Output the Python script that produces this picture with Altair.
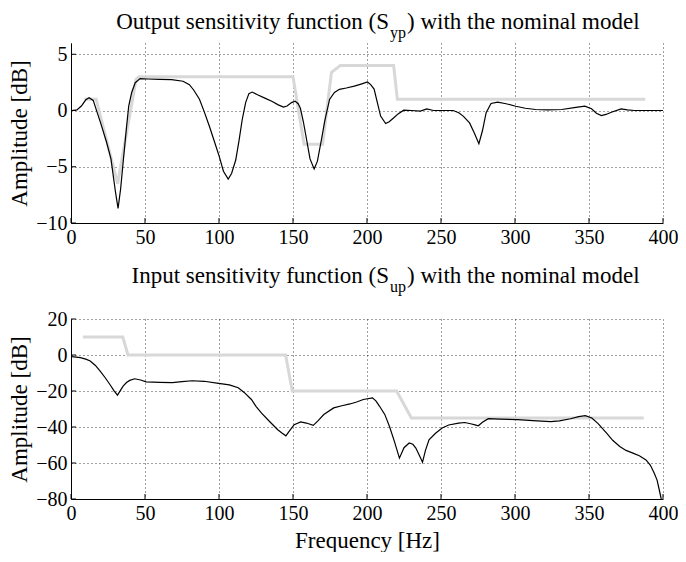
import altair as alt
import pandas as pd

# ---------------- data ----------------
syp_freq = [0.5, 4, 7, 10, 12.2, 15, 20, 24, 27, 30, 31.8, 33.5, 35.6, 37.5, 39, 41, 43.4, 46.7, 52, 60, 68,
            75.7, 80, 83, 86.8, 90, 93.5, 97, 100.2, 103, 106.2, 108.5, 111.3, 113.5, 115.7, 118, 120.2, 122.4,
            126, 131, 136, 140, 143.6, 146, 149, 151.4, 153.5, 155, 157, 159.2, 161.5, 164.3, 166.5, 169.2,
            171.5, 174.7, 178, 181.4, 186, 191.4, 196, 200.3, 202.5, 204.8, 207, 209.2, 212.6, 215, 218.1,
            221, 224.8, 230, 236, 240.4, 244.9, 252, 258.2, 262, 265, 269.3, 272.5, 275.6, 278, 280.5, 283.8,
            288.3, 294, 300.5, 307, 313.9, 322, 331.7, 340, 347.2, 351.7, 355, 358.4, 361.5, 365.1, 371.7,
            376, 380.6, 390, 400]
syp_db = [0, 0.05, 0.4, 0.95, 1.13, 0.9, -1.1, -2.8, -4.3, -7.2, -8.7, -7.0, -4.1, -1.5, 0.4, 1.6, 2.47, 2.83,
          2.8, 2.77, 2.75, 2.6, 2.3, 1.8, 1.0, -0.1, -1.4, -2.8, -4.1, -5.4, -6.1, -5.6, -4.4, -2.7, -0.8, 0.7,
          1.5, 1.64, 1.4, 1.1, 0.8, 0.5, 0.3, 0.4, 0.7, 0.83, 0.6, 0.2, -1.0, -2.6, -4.3, -5.2, -4.5, -2.6,
          -0.9, 0.98, 1.6, 1.88, 2.0, 2.17, 2.35, 2.53, 2.3, 1.9, 0.7, -0.5, -1.16, -1.0, -0.65, -0.3, 0.03,
          0.0, -0.06, 0.15, 0, 0, 0, -0.2, -0.5, -1.1, -2.0, -2.95, -1.8, -0.2, 0.63, 0.74, 0.6, 0.38, 0.2,
          0.09, 0.05, 0.09, 0.25, 0.38, 0.15, -0.25, -0.45, -0.35, -0.15, 0.15, 0.05, 0, 0, 0]

syp_tpl_freq = [9, 17, 31.5, 44, 46, 150, 157.5, 170, 176, 182, 218, 220.5, 388]
syp_tpl_db = [1, 1, -6.5, 2.8, 3, 3, -3, -3, 3.4, 4, 4, 1, 1]

sup_freq = [0, 0.8, 6.3, 10, 13, 16.5, 19.7, 23, 26.3, 29, 31.4, 33.3, 35.2, 37.5, 39.7, 43, 47, 50.8, 60, 68.5,
            75, 81.9, 90, 99.7, 107, 113, 117, 121.9, 125, 128.6, 134, 139.7, 142.5, 145.2, 147.5, 150.8,
            155.2, 159, 163.7, 167, 170.8, 177.5, 183, 188.5, 193, 197.5, 203.7, 206, 208.5, 212, 215.2,
            218.5, 221.9, 225, 228.5, 231, 233, 235.5, 237.5, 239.5, 241.9, 246.3, 250.8, 255.2, 261.9, 266,
            270, 273, 275.2, 278, 281.9, 290, 301.9, 312, 324.1, 330, 337.5, 343, 347.5, 351.9, 356, 361.9,
            366, 370.8, 375, 379.7, 384, 388.5, 391.5, 394.1, 396, 397.5, 398.8]
sup_db = [-0.5, -0.9, -1.5, -2.3, -3.3, -5.8, -8.9, -12.5, -16.4, -19.8, -22.3, -19.8, -17.3, -15.3, -14.1,
          -13.2, -13.9, -14.9, -15.2, -15.4, -14.8, -14.3, -14.6, -15.8, -16.6, -18.2, -20.8, -24.7, -28.5,
          -32.2, -36.8, -41.5, -43.3, -44.9, -42.3, -38.7, -37.2, -37.8, -39.1, -36.5, -33.1, -29.4, -28.2,
          -27.2, -26.1, -24.7, -23.8, -25.5, -28.5, -33, -39.7, -48, -57.3, -51.5, -48.9, -49.6, -51.7, -56,
          -59.6, -53, -47.1, -43.5, -40.6, -38.9, -37.8, -37.5, -38.2, -38.8, -39.3, -37.4, -35.4, -35.6,
          -35.9, -36.5, -37.0, -36.6, -35.4, -34.2, -33.7, -35.0, -38, -43.4, -47.4, -50.8, -53, -54.5, -56,
          -58.3, -61.3, -65.7, -69.5, -75, -80]

sup_tpl_freq = [8, 35, 38.5, 145, 149.5, 220, 230, 387]
sup_tpl_db = [10, 10, 0, 0, -20, -20, -35, -35]

title_top = ["Output sensitivity function (S", "yp", ") with the nominal model"]
title_bot = ["Input sensitivity function (S", "up", ") with the nominal model"]

x_ticks = [0, 50, 100, 150, 200, 250, 300, 350, 400]
syp_ticks = [-10, -5, 0, 5]
sup_ticks = [-80, -60, -40, -20, 0, 20]
syp_domain = [-10, 6]
sup_domain = [-80, 20]
x_title = "Frequency [Hz]"
y_title = "Amplitude [dB]"

# ---------------- styling ----------------
FONT = "Liberation Serif"
W, H = 592, 180
TITLE_SIZE = 23
SUB_SIZE = 16
PIVOT = 319          # x (px, in plot) where the subscript starts
SUB_W = 17


def panel(freq, db, tfreq, tdb, ydomain, yticks, title_parts, with_xtitle, title_base):
    line_df = pd.DataFrame({"f": freq, "db": db})
    tpl_df = pd.DataFrame({"f": tfreq, "db": tdb})

    xaxis_kw = dict(values=x_ticks, grid=True, labelFontSize=20, labelPadding=4, ticks=False,
                    labelFlush=False, labelOverlap=False, labelBound=False,
                    domainColor="#000", domainWidth=1)
    if with_xtitle:
        xaxis_kw.update(title=x_title, titleFontSize=23, titlePadding=6)
    else:
        xaxis_kw.update(title="")
    yaxis = alt.Axis(values=yticks, grid=True, labelFontSize=20, labelPadding=4, ticks=False,
                     labelOverlap=False, labelBound=False, labelFlush=False,
                     title=y_title, titleFontSize=23, titlePadding=4, domainColor="#000", domainWidth=1)

    x = alt.X("f:Q", scale=alt.Scale(domain=[0, 400], nice=False, zero=False), axis=alt.Axis(**xaxis_kw))
    y = alt.Y("db:Q", scale=alt.Scale(domain=ydomain, nice=False, zero=False), axis=yaxis)

    tpl = alt.Chart(tpl_df).mark_line(color="#d8d8d8", strokeWidth=3, clip=True).encode(x=x, y=y)
    line = alt.Chart(line_df).mark_line(color="#000", strokeWidth=1.2, clip=True).encode(x=x, y=y)

    # inward Matlab-style ticks
    xt = alt.Chart(pd.DataFrame({"f": x_ticks})).mark_rule(color="#000", strokeWidth=1).encode(
        x=x, y=alt.value(H), y2=alt.value(H - 5))
    yt = alt.Chart(pd.DataFrame({"db": yticks})).mark_rule(color="#000", strokeWidth=1).encode(
        y=y, x=alt.value(0), x2=alt.value(5))

    t1 = alt.Chart(pd.DataFrame({"t": [title_parts[0]]})).mark_text(
        align="right", baseline="alphabetic", font=FONT, fontSize=TITLE_SIZE, color="#000").encode(
        x=alt.value(PIVOT - 1), y=alt.value(title_base), text="t:N")
    t2 = alt.Chart(pd.DataFrame({"t": [title_parts[1]]})).mark_text(
        align="left", baseline="alphabetic", font=FONT, fontSize=SUB_SIZE, color="#000").encode(
        x=alt.value(PIVOT), y=alt.value(title_base + 8.5), text="t:N")
    t3 = alt.Chart(pd.DataFrame({"t": [title_parts[2]]})).mark_text(
        align="left", baseline="alphabetic", font=FONT, fontSize=TITLE_SIZE, color="#000").encode(
        x=alt.value(PIVOT + SUB_W), y=alt.value(title_base), text="t:N")

    return alt.layer(tpl, line, xt, yt, t1, t2, t3).properties(width=W, height=H)


top = panel(syp_freq, syp_db, syp_tpl_freq, syp_tpl_db, syp_domain, syp_ticks, title_top, False, -14)
bot = panel(sup_freq, sup_db, sup_tpl_freq, sup_tpl_db, sup_domain, sup_ticks, title_bot, True, -36)

chart = alt.vconcat(top, bot, spacing=96, bounds="flush").properties(
    padding={"left": 0, "top": 3, "right": 0, "bottom": 0}
).configure(font=FONT).configure_view(stroke=None).configure_axis(
    labelFont=FONT, titleFont=FONT, labelColor="#000", titleColor="#000",
    gridColor="#000", gridOpacity=0.75, gridDash=[1, 3], gridWidth=1, titleFontWeight="normal"
)

chart.save("out.html", embed_options={"renderer": "svg", "actions": False})
